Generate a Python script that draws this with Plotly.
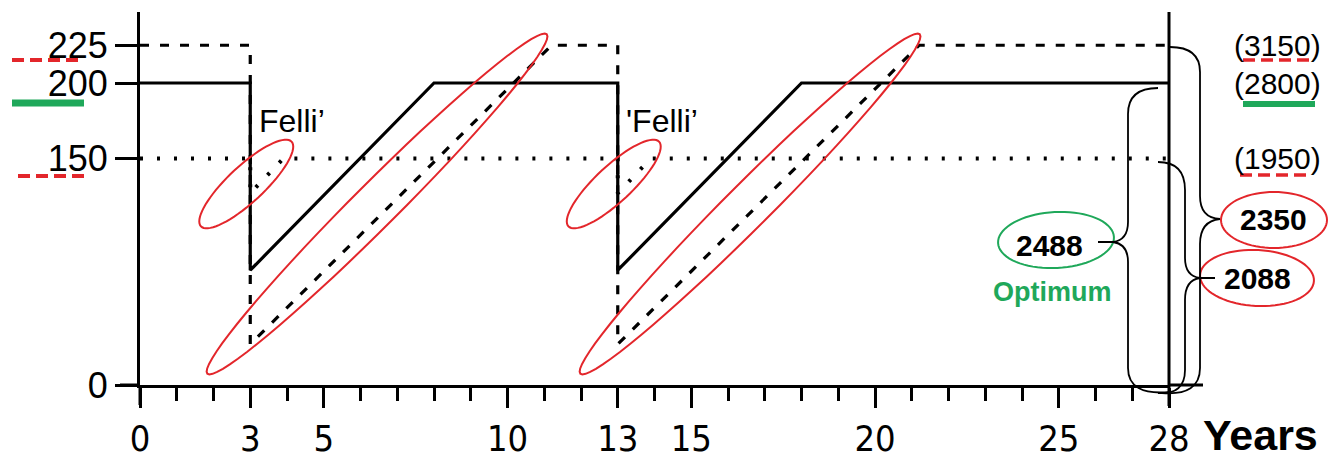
import math
import plotly.graph_objects as go

# ---------------- data ----------------
years_solid = [0, 3, 3, 8, 13, 13, 18, 28]
vol_solid = [200, 200, 76, 200, 200, 76, 200, 200]

years_dashed = [0, 3, 3, 11.2, 13, 13, 21.2, 28]
vol_dashed = [225, 225, 27, 225, 225, 27, 225, 225]

years_dotted = [0, 3, 3, 3.9, 13, 13, 13.9, 28]
vol_dotted = [150, 150, 127, 150, 150, 127, 150, 150]

x_tick_vals = [0, 3, 5, 10, 13, 15, 20, 25, 28]
y_tick_vals = [0, 150, 200, 225]

felling_years = [3, 13]
felling_labels = ["Felli\u2019", "'Felli\u2019"]

total_labels = ["(3150)", "(2800)", "(1950)"]
total_levels = [225, 200, 150]

result_values = ["2488", "2350", "2088"]
optimum_label = "Optimum"
x_title = "Years"

# ---------------- layout helpers ----------------
W, H = 1328, 462
L_M, R_M, T_M, B_M = 140, 159, 12, 77
PW, PH = W - L_M - R_M, H - T_M - B_M
Y_TOP = (385 - 12) / 1.51

RED = "#e3262b"
GREEN = "#1fa85a"


def fx(px):
    return (px - L_M) / PW


def fy(py):
    return (H - B_M - py) / PH


def P(px, py):
    return f"{fx(px):.5f},{fy(py):.5f}"


def ellipse_path(cx, cy, a, b, ang):
    t = math.radians(ang)
    pts = []
    for i in range(73):
        th = 2 * math.pi * i / 72
        ex, ey = a * math.cos(th), b * math.sin(th)
        px = cx + ex * math.cos(t) - ey * math.sin(t)
        py = cy - (ex * math.sin(t) + ey * math.cos(t))
        pts.append(P(px, py))
    return "M " + " L ".join(pts) + " Z"


def xpix(x):
    return L_M + x * PW / 28


def hline(x0, x1, y, color, width, dash=None):
    ln = dict(color=color, width=width)
    if dash:
        ln["dash"] = dash
    return dict(type="line", xref="paper", yref="paper", x0=fx(x0), x1=fx(x1),
                y0=fy(y), y1=fy(y), line=ln)


def vline(x, y0, y1, color, width):
    return dict(type="line", xref="paper", yref="paper", x0=fx(x), x1=fx(x),
                y0=fy(y0), y1=fy(y1), line=dict(color=color, width=width))


fig = go.Figure()

fig.add_trace(go.Scatter(x=years_dashed, y=vol_dashed, mode="lines",
                         line=dict(color="black", width=3.2, dash="9px,11px"),
                         cliponaxis=False, showlegend=False, hoverinfo="skip"))
fig.add_trace(go.Scatter(x=years_dotted, y=vol_dotted, mode="lines",
                         line=dict(color="black", width=4, dash="3px,14px"),
                         cliponaxis=False, showlegend=False, hoverinfo="skip"))
fig.add_trace(go.Scatter(x=years_solid, y=vol_solid, mode="lines",
                         line=dict(color="black", width=3.2),
                         cliponaxis=False, showlegend=False, hoverinfo="skip"))

shapes = []
# axis extensions and right border line
shapes.append(hline(120, 140, 385, "black", 3))
shapes.append(hline(1169, 1203, 385, "black", 3))
shapes.append(vline(140, 385, 405, "black", 3))
shapes.append(vline(1169, 12, 406, "black", 3))

# left colour keys
shapes.append(hline(12, 84, 60, RED, 4, "12px,6px"))
shapes.append(hline(12, 84, 103, GREEN, 7))
shapes.append(hline(18, 90, 176, RED, 4, "12px,6px"))

# right colour keys (underlines)
shapes.append(hline(1243, 1315, 60, RED, 3.5, "12px,6px"))
shapes.append(hline(1243, 1315, 104, GREEN, 6))
shapes.append(hline(1240, 1310, 175, RED, 3.5, "12px,6px"))

# red ellipses around felling dips and regrowth
for fyr, big_c in zip(felling_years, [6.45, 16.6]):
    shapes.append(dict(type="path", xref="paper", yref="paper",
                       path=ellipse_path(xpix(fyr) - 4, 184, 62, 18, 43),
                       line=dict(color=RED, width=2)))
    shapes.append(dict(type="path", xref="paper", yref="paper",
                       path=ellipse_path(xpix(big_c), 204, 240, 22, 45),
                       line=dict(color=RED, width=2)))

# result ellipses
shapes.append(dict(type="path", xref="paper", yref="paper",
                   path=ellipse_path(1056, 240, 58, 28, 3), line=dict(color=GREEN, width=2)))
shapes.append(dict(type="path", xref="paper", yref="paper",
                   path=ellipse_path(1274, 220, 53, 28, 0), line=dict(color=RED, width=2)))
shapes.append(dict(type="path", xref="paper", yref="paper",
                   path=ellipse_path(1257, 278, 57, 28, -3), line=dict(color=RED, width=2)))

# braces
braceA = ("M " + P(1158, 88) + " Q " + P(1128, 88) + " " + P(1128, 114) +
          " L " + P(1128, 222) + " Q " + P(1128, 240) + " " + P(1113, 242) +
          " Q " + P(1128, 244) + " " + P(1128, 262) + " L " + P(1128, 368) +
          " Q " + P(1128, 396) + " " + P(1170, 392) +
          " M " + P(1098, 242) + " L " + P(1113, 242))
braceB = ("M " + P(1170, 47) + " Q " + P(1200, 47) + " " + P(1200, 72) +
          " L " + P(1200, 196) + " Q " + P(1200, 218) + " " + P(1220, 219) +
          " Q " + P(1200, 221) + " " + P(1200, 244) + " L " + P(1200, 368) +
          " Q " + P(1200, 396) + " " + P(1162, 393))
braceC = ("M " + P(1158, 162) + " Q " + P(1185, 162) + " " + P(1185, 190) +
          " L " + P(1185, 258) + " Q " + P(1185, 276) + " " + P(1200, 278) +
          " Q " + P(1185, 280) + " " + P(1185, 300) + " L " + P(1185, 370) +
          " Q " + P(1185, 395) + " " + P(1158, 393) +
          " M " + P(1200, 278) + " L " + P(1215, 278))
for bp in [braceA, braceB, braceC]:
    shapes.append(dict(type="path", xref="paper", yref="paper", path=bp,
                       line=dict(color="black", width=1.8)))

annotations = []
FONT = "Liberation Sans, Arial, sans-serif"
for fyr, lab in zip(felling_years, felling_labels):
    annotations.append(dict(x=fyr + 0.17, y=175, xref="x", yref="y", text=lab,
                            showarrow=False, xanchor="left", yanchor="middle",
                            font=dict(family=FONT, size=32, color="black")))
for lab, lev in zip(total_labels, total_levels):
    annotations.append(dict(x=fx(1277), y=lev, xref="paper", yref="y", text=lab,
                            showarrow=False, xanchor="center", yanchor="middle",
                            font=dict(family=FONT, size=30, color="black")))
for val, (px, py) in zip(result_values, [(1049, 245), (1273, 220), (1257, 278)]):
    annotations.append(dict(x=fx(px), y=fy(py), xref="paper", yref="paper", text=f"<b>{val}</b>",
                            showarrow=False, xanchor="center", yanchor="middle",
                            font=dict(family=FONT, size=30, color="black")))
annotations.append(dict(x=fx(1052), y=fy(292), xref="paper", yref="paper",
                        text=f"<b>{optimum_label}</b>", showarrow=False,
                        xanchor="center", yanchor="middle",
                        font=dict(family=FONT, size=27, color=GREEN)))
annotations.append(dict(x=fx(1260), y=fy(435), xref="paper", yref="paper",
                        text=f"<b>{x_title}</b>", showarrow=False,
                        xanchor="center", yanchor="middle",
                        font=dict(family=FONT, size=43, color="black")))

fig.update_layout(
    width=W, height=H, autosize=False,
    margin=dict(l=L_M, r=R_M, t=T_M, b=B_M, pad=0, autoexpand=False),
    paper_bgcolor="white", plot_bgcolor="white",
    showlegend=False,
    shapes=shapes, annotations=annotations,
    xaxis=dict(range=[0, 28], tickvals=x_tick_vals, ticktext=[str(v) for v in x_tick_vals],
               ticks="outside", ticklen=20, tickwidth=3, tickcolor="black",
               showline=True, linewidth=3, linecolor="black", showgrid=False, zeroline=False,
               automargin=False,
               tickfont=dict(family="Liberation Sans Narrow, Arial Narrow, DejaVu Sans Condensed, Liberation Sans, Arial",
                             size=36, color="black"),
               minor=dict(dtick=1, tick0=0, ticks="outside", ticklen=13, tickwidth=2.5,
                          tickcolor="black", showgrid=False),
               fixedrange=True),
    yaxis=dict(range=[0, Y_TOP], tickvals=y_tick_vals, ticktext=[str(v) for v in y_tick_vals],
               ticks="outside", ticklen=22, tickwidth=3, tickcolor="black",
               showline=True, linewidth=3, linecolor="black", showgrid=False, zeroline=False,
               automargin=False,
               tickfont=dict(family=FONT, size=36, color="black"),
               ticklabelstandoff=0, fixedrange=True),
)

fig.write_html("out.html", config={"displayModeBar": False},
               post_script="document.body.style.margin='0px';")
